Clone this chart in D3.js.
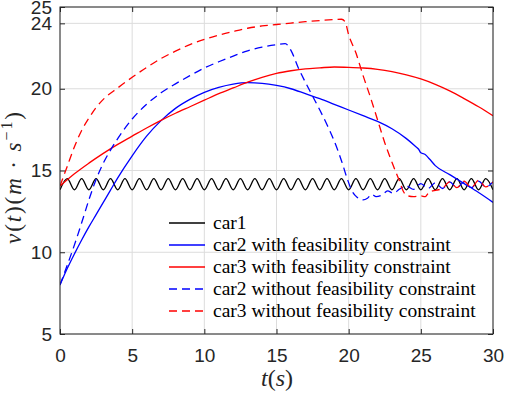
<!DOCTYPE html>
<html>
<head>
<meta charset="utf-8">
<script src="https://cdn.jsdelivr.net/npm/d3@7"></script>
<style>
  body { margin: 0; background: #fff; }
  svg { display: block; }
  .serif { font-family: "Liberation Serif", "Times New Roman", "DejaVu Serif", serif; }
  .sans { font-family: "Liberation Sans", Arial, "DejaVu Sans", sans-serif; }
</style>
</head>
<body>
<svg id="chart"></svg>
<script>
// values
const xTicks = [0, 5, 10, 15, 20, 25, 30];
const yTicks = [5, 10, 15, 20, 24, 25];

const seriesNames = [
  "car1",
  "car2 with feasibility constraint",
  "car3 with feasibility constraint",
  "car2 without feasibility constraint",
  "car3 without feasibility constraint"
];

// car1: extrema of the oscillation
const car1 = [
  [0,13.82],[0.5,14.5],[1,13.82],[1.5,14.5],[2,13.82],[2.5,14.5],[3,13.82],[3.5,14.5],
  [4,13.82],[4.5,14.5],[5,13.82],[5.5,14.5],[6,13.82],[6.5,14.5],[7,13.82],[7.5,14.5],
  [8,13.82],[8.5,14.5],[9,13.82],[9.5,14.5],[10,13.82],[10.5,14.5],[11,13.82],[11.5,14.5],
  [12,13.82],[12.5,14.5],[13,13.82],[13.5,14.5],[14,13.82],[14.5,14.5],[15,13.82],[15.5,14.5],
  [16,13.82],[16.5,14.5],[17,13.82],[17.5,14.5],[18,13.82],[18.5,14.5],[19,13.82],[19.5,14.5],
  [20,13.82],[20.5,14.5],[21,13.82],[21.5,14.5],[22,13.82],[22.5,14.5],[23,13.82],[23.5,14.5],
  [24,13.82],[24.5,14.5],[25,13.82],[25.5,14.5],[26,13.82],[26.5,14.5],[27,13.82],[27.5,14.5],
  [28,13.82],[28.5,14.5],[29,13.82],[29.5,14.5],[30,13.82]
];

const car2With = [
  [0,8.0],[0.5,9.0],[1,9.9],[1.5,10.75],[2,11.55],[2.5,12.3],[3,13.05],[3.5,13.8],
  [4,14.55],[5,15.9],[6,17.1],[7,18.05],[8,18.8],[9,19.35],[10,19.78],[11,20.08],
  [12,20.28],[13,20.37],[14,20.33],[15,20.2],[16,20.0],[17,19.7],[18,19.4],[19,19.05],
  [20,18.7],[21,18.35],[22,18.0],[23,17.55],[24,16.95],[24.6,16.5],[24.85,16.3],
  [25.0,16.08],[25.3,15.98],[25.6,15.7],[26,15.3],[27,14.75],[28,14.2],[29,13.65],[30,13.05]
];

const car3With = [
  [0,14.05],[1,14.8],[2,15.45],[3,16.05],[4,16.6],[5,17.1],[6,17.6],[7,18.07],
  [8,18.5],[9,18.9],[10,19.3],[11,19.7],[12,20.05],[13,20.4],[14,20.7],[15,20.94],
  [16,21.1],[17,21.22],[18,21.28],[19,21.33],[20,21.31],[21,21.27],[22,21.19],[23,21.05],
  [24,20.85],[25,20.6],[26,20.27],[27,19.87],[28,19.4],[29,18.9],[30,18.35]
];

const car2Without = [
  [0,8.0],[0.5,9.2],[1,10.45],[1.5,11.8],[2,13.2],[2.5,14.45],[3,15.45],[3.5,16.25],
  [4,16.95],[5,18.15],[6,19.05],[7,19.75],[8,20.3],[9,20.8],[10,21.27],[11,21.65],
  [12,22.0],[13,22.32],[14,22.55],[15,22.7],[15.6,22.76],[16,22.35],[16.5,21.3],
  [17,20.4],[17.5,19.55],[18,18.7],[18.5,17.8],[19,16.8],[19.5,15.6],[19.9,14.5],
  [20.2,13.8],[20.6,13.35],[21.0,13.2],[21.3,13.3],[21.6,13.55],[21.9,13.4],[22.3,13.5],
  [22.7,13.75],[23.1,13.6],[23.5,13.85],[24.0,14.05],[24.5,13.85],[25,14.2],[25.5,13.9],
  [26,14.25],[26.5,13.9],[27,14.3],[27.5,13.95],[28,14.3],[28.5,13.95],[29,14.35],
  [29.5,14.0],[30,14.3]
];

const car3Without = [
  [0,14.05],[0.5,15.25],[1,16.45],[1.5,17.45],[2,18.2],[2.5,18.85],[3,19.35],[4,20.05],
  [5,20.7],[6,21.3],[7,21.85],[8,22.3],[9,22.7],[10,23.02],[11,23.28],[12,23.5],
  [13,23.7],[14,23.84],[15,23.93],[16,24.02],[17,24.1],[18,24.17],[19,24.23],[19.5,24.25],
  [19.75,24.1],[20,23.3],[20.5,22.2],[21,20.8],[21.5,19.5],[22,18.1],[22.5,16.7],
  [23,15.5],[23.5,14.4],[23.8,13.7],[24.1,13.45],[24.5,13.4],[25,13.45],[25.3,13.4],
  [25.6,13.7],[26.1,13.8],[26.5,13.9],[27,14.3],[27.5,13.95],[28,14.35],[28.5,13.95],
  [29,14.4],[29.5,14.0],[30,14.3]
];

function getConfig() {
  let width = 507;
  let height = 395;
  let margin = {left: 60, right: 14, top: 7, bottom: 61};
  let svg = d3.select("#chart")
    .attr("width", width)
    .attr("height", height);
  return {width, height, margin, svg};
}

function getScales(config) {
  let {width, height, margin} = config;
  let x = d3.scaleLinear().domain([0, 30])
    .range([margin.left, width - margin.right]);
  let y = d3.scaleLinear().domain([5, 25])
    .range([height - margin.bottom, margin.top]);
  return {x, y};
}

function drawGrid(svg, x, y) {
  let g = svg.append("g").attr("stroke", "#dcdcdc").attr("stroke-width", 1);
  g.selectAll("line.v").data(xTicks).enter().append("line")
    .attr("x1", d => x(d)).attr("x2", d => x(d))
    .attr("y1", y(5)).attr("y2", y(25));
  g.selectAll("line.h").data(yTicks).enter().append("line")
    .attr("x1", x(0)).attr("x2", x(30))
    .attr("y1", d => y(d)).attr("y2", d => y(d));
}

function drawLines(svg, x, y) {
  svg.append("clipPath").attr("id", "clip")
    .append("rect")
    .attr("x", x(0)).attr("y", y(25))
    .attr("width", x(30) - x(0)).attr("height", y(5) - y(25));
  let line = d3.line()
    .x(d => x(d[0]))
    .y(d => y(d[1]))
    .curve(d3.curveMonotoneX);
  let series = [
    {data: car1, color: "#000000", dash: null},
    {data: car2With, color: "#0000ff", dash: null},
    {data: car3With, color: "#ff0000", dash: null},
    {data: car2Without, color: "#0000ff", dash: "8,5"},
    {data: car3Without, color: "#ff0000", dash: "8,5"}
  ];
  svg.append("g").attr("clip-path", "url(#clip)")
    .selectAll("path").data(series).enter().append("path")
    .attr("d", d => line(d.data))
    .attr("fill", "none")
    .attr("stroke", d => d.color)
    .attr("stroke-width", 1.3)
    .attr("stroke-dasharray", d => d.dash);
  return series;
}

function drawAxes(svg, x, y) {
  let bottom = svg.append("g")
    .attr("transform", `translate(0,${y(5)})`)
    .call(d3.axisBottom(x).tickValues(xTicks).tickSizeInner(-5).tickSizeOuter(0).tickPadding(15));
  let left = svg.append("g")
    .attr("transform", `translate(${x(0)},0)`)
    .call(d3.axisLeft(y).tickValues(yTicks).tickSizeInner(-5).tickSizeOuter(0).tickPadding(8));
  svg.append("g")
    .attr("transform", `translate(0,${y(25)})`)
    .call(d3.axisTop(x).tickValues(xTicks).tickSizeInner(-5).tickSizeOuter(0).tickFormat(""));
  svg.append("g")
    .attr("transform", `translate(${x(30)},0)`)
    .call(d3.axisRight(y).tickValues(yTicks).tickSizeInner(-5).tickSizeOuter(0).tickFormat(""));
  svg.selectAll(".domain").remove();
  svg.selectAll(".tick line").attr("stroke", "#262626");
  for (let g of [bottom, left]) {
    g.attr("font-family", null).attr("font-size", null);
    g.selectAll("text")
      .attr("class", "sans")
      .style("font-size", "19px")
      .attr("fill", "#262626");
  }
  svg.append("rect")
    .attr("x", x(0)).attr("y", y(25))
    .attr("width", x(30) - x(0)).attr("height", y(5) - y(25))
    .attr("fill", "none").attr("stroke", "#262626").attr("stroke-width", 1);
}

function drawLabels(svg) {
  let xl = svg.append("text")
    .attr("class", "serif")
    .attr("x", 277).attr("y", 386)
    .attr("text-anchor", "middle")
    .style("font-size", "24px")
    .attr("fill", "#262626");
  xl.append("tspan").style("font-style", "italic").text("t");
  xl.append("tspan").text("(");
  xl.append("tspan").style("font-style", "italic").text("s");
  xl.append("tspan").text(")");

  let yl = svg.append("text")
    .attr("class", "serif")
    .attr("transform", "translate(21,178) rotate(-90)")
    .attr("text-anchor", "middle")
    .attr("textLength", 132)
    .attr("lengthAdjust", "spacing")
    .style("font-size", "23px")
    .attr("fill", "#262626");
  yl.append("tspan").style("font-style", "italic").text("v");
  yl.append("tspan").text("(");
  yl.append("tspan").style("font-style", "italic").text("t");
  yl.append("tspan").text(")(");
  yl.append("tspan").style("font-style", "italic").text("m");
  yl.append("tspan").text(" \u00b7 ");
  yl.append("tspan").style("font-style", "italic").text("s");
  yl.append("tspan").style("font-size", "16px").attr("dy", -9).text("\u22121");
  yl.append("tspan").attr("dy", 9).text(")");
}

function drawLegend(svg, series) {
  let rowY = d3.scaleLinear().domain([0, 4]).range([223, 311]);
  let rows = svg.append("g").selectAll("g").data(series).enter().append("g")
    .attr("transform", (d, i) => `translate(0,${rowY(i)})`);
  rows.append("line")
    .attr("x1", 169).attr("x2", 205)
    .attr("y1", 0).attr("y2", 0)
    .attr("stroke", d => d.color)
    .attr("stroke-width", 1.3)
    .attr("stroke-dasharray", d => d.dash);
  rows.append("text")
    .attr("class", "serif")
    .attr("x", 213).attr("dy", "0.32em")
    .style("font-size", "19.5px")
    .attr("fill", "#000")
    .text((d, i) => seriesNames[i]);
}

function drawChart() {
  let config = getConfig();
  let {x, y} = getScales(config);
  drawGrid(config.svg, x, y);
  let series = drawLines(config.svg, x, y);
  drawAxes(config.svg, x, y);
  drawLabels(config.svg);
  drawLegend(config.svg, series);
}

drawChart();
</script>
</body>
</html>
